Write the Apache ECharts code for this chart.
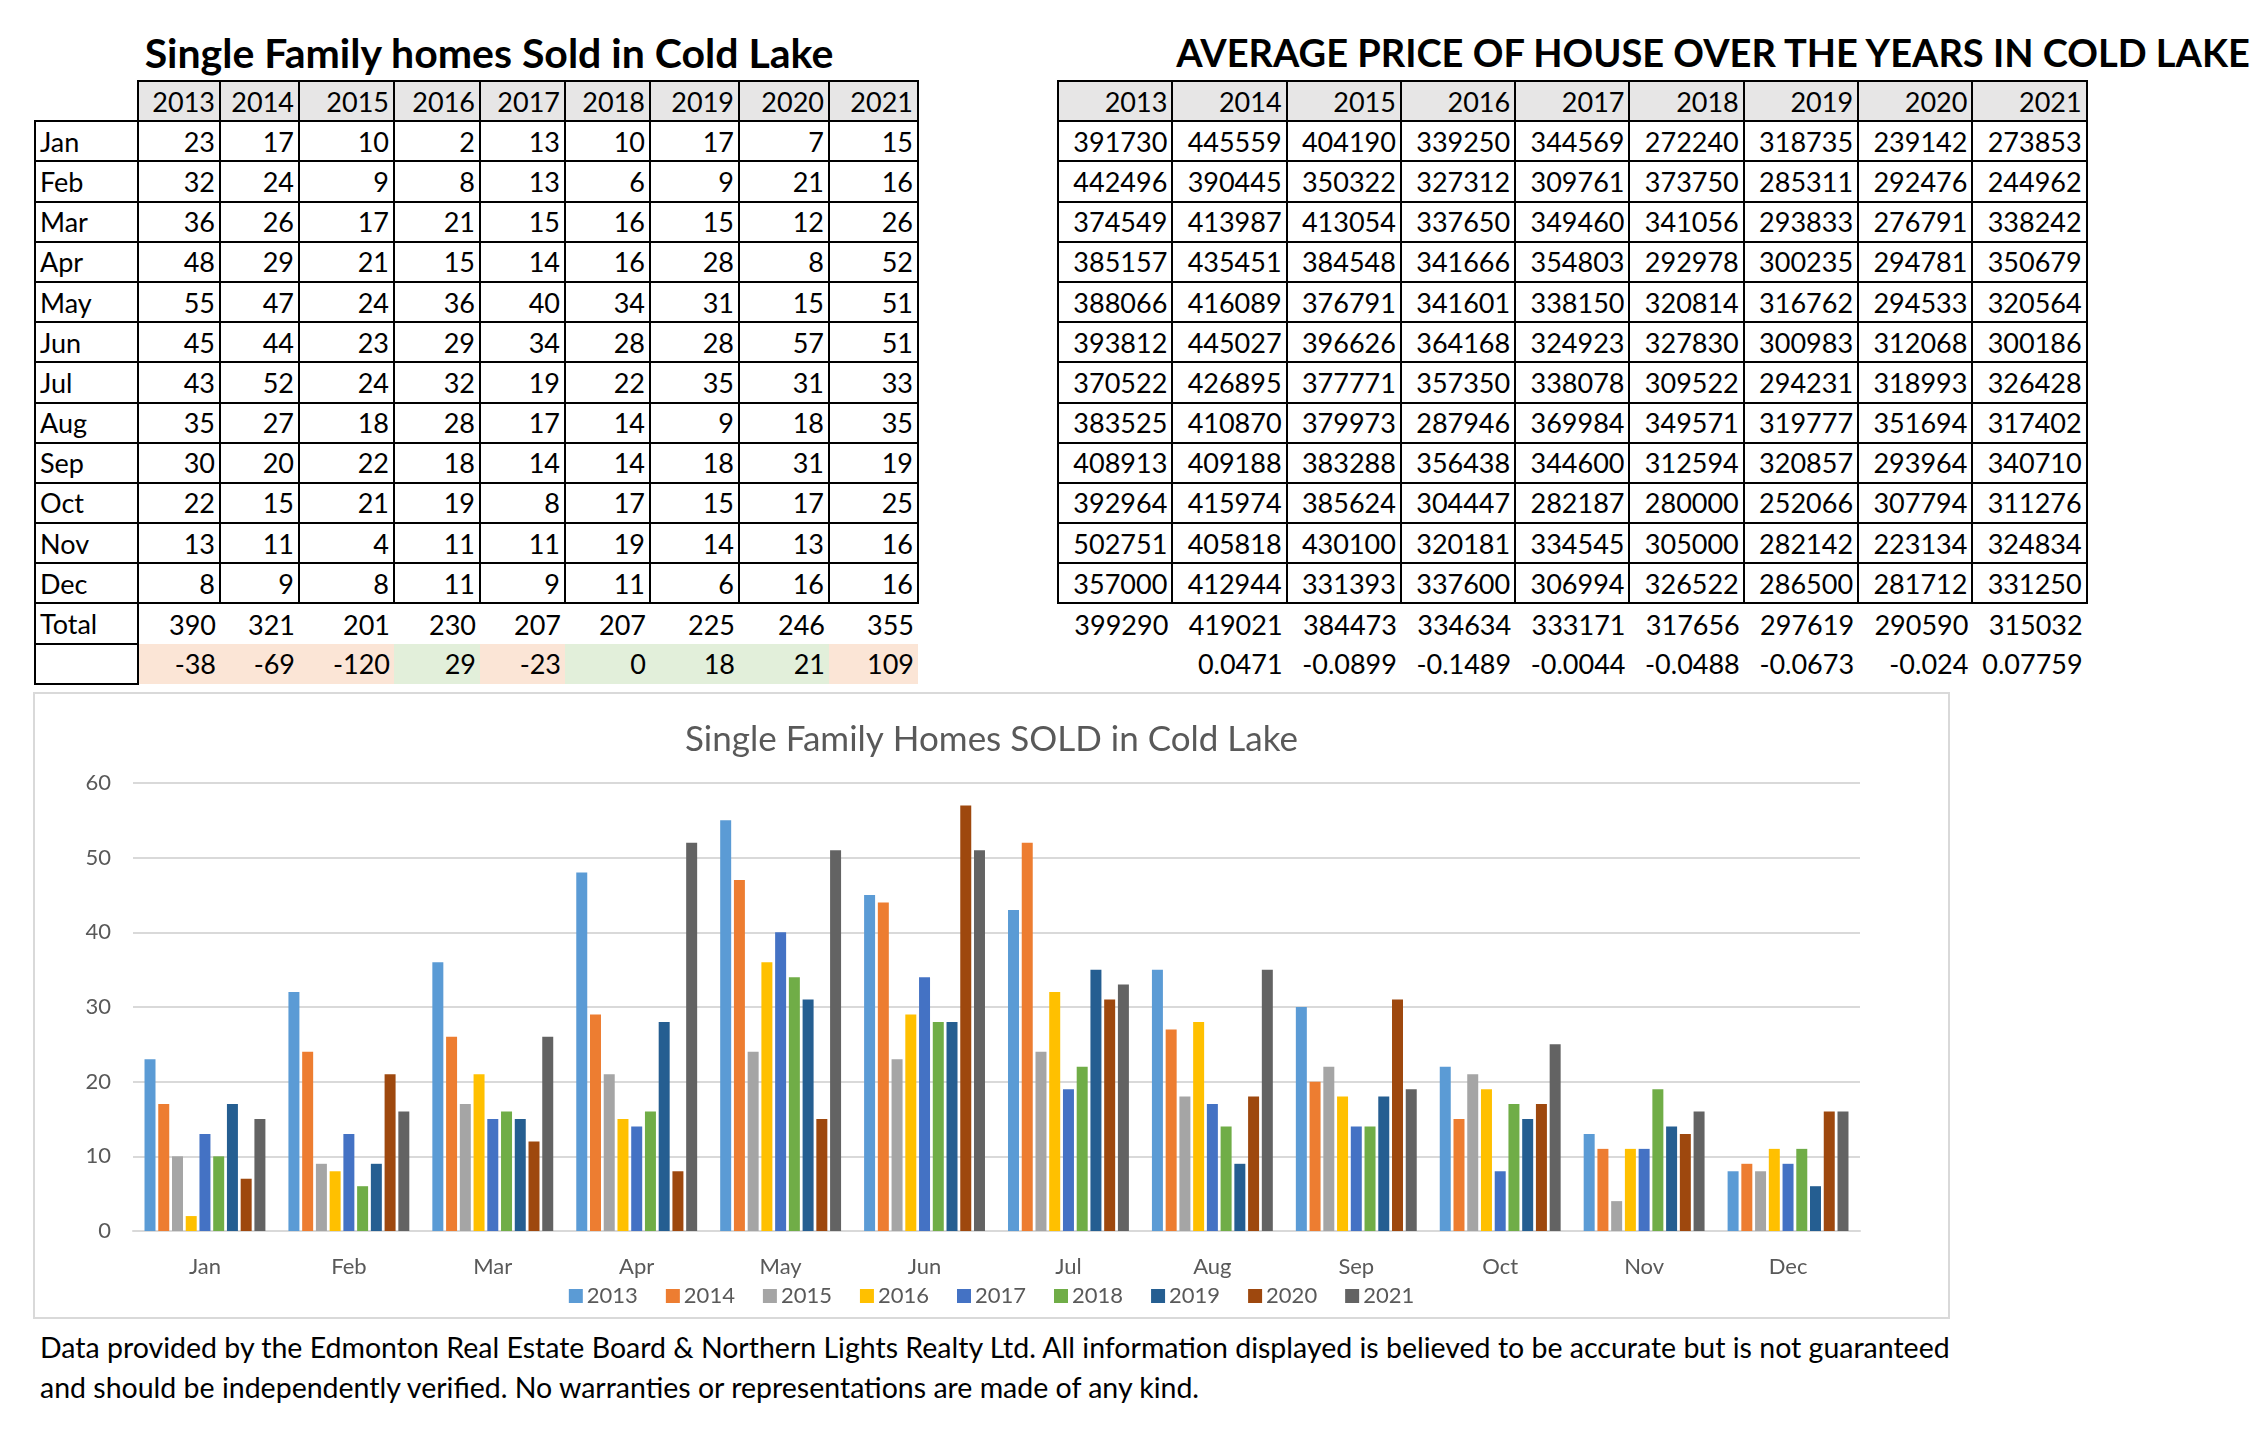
<!DOCTYPE html>
<html>
<head>
<meta charset="utf-8">
<title>Cold Lake homes</title>
<script src="https://cdn.jsdelivr.net/npm/echarts@6/dist/echarts.min.js"></script>
<style>
    html, body { margin: 0; padding: 0; background: #fff; }
    body { width: 2268px; height: 1440px; position: relative; overflow: hidden; font-family: Lato, 'Noto Sans', sans-serif; color: #000; }
    .ttl { position: absolute; font-weight: bold; white-space: nowrap; transform: translateX(-50%); line-height: 1; }
    table { position: absolute; border-collapse: collapse; table-layout: fixed; font-size: 27px; }
    td { height: 40.2px; padding: 0 4px; box-sizing: border-box; text-align: right; white-space: nowrap; line-height: 1; }
    td.b { border: 2.5px solid #000; }
    td.hd { background: #E7E6E6; }
    td.lb { text-align: left; }
    #chart { position: absolute; left: 33px; top: 692px; width: 1917px; height: 627px; border: 2px solid #D9D9D9; box-sizing: border-box; }
    .foot { position: absolute; left: 40px; font-size: 28.5px; white-space: nowrap; line-height: 1; }
</style>
</head>
<body>
<div class="ttl" style="left:489px; top:32px; font-size:41px;">Single Family homes Sold in Cold Lake</div>
<div class="ttl" style="left:1713px; top:33px; font-size:38px;">AVERAGE PRICE OF HOUSE OVER THE YEARS IN COLD LAKE</div>
<table id="soldTable" style="left:34px; top:80px;"></table>
<table id="priceTable" style="left:1057px; top:80px;"></table>
<div id="chart"></div>
<div class="foot" style="top:1333px;">Data provided by the Edmonton Real Estate Board &amp; Northern Lights Realty Ltd. All information displayed is believed to be accurate but is not guaranteed</div>
<div class="foot" style="top:1373px;">and should be independently verified. No warranties or representations are made of any kind.</div>
<script>
var years = ['2013', '2014', '2015', '2016', '2017', '2018', '2019', '2020', '2021'];
var months = ['Jan', 'Feb', 'Mar', 'Apr', 'May', 'Jun', 'Jul', 'Aug', 'Sep', 'Oct', 'Nov', 'Dec'];

// homes sold per month
var sold2013 = [23, 32, 36, 48, 55, 45, 43, 35, 30, 22, 13, 8];
var sold2014 = [17, 24, 26, 29, 47, 44, 52, 27, 20, 15, 11, 9];
var sold2015 = [10, 9, 17, 21, 24, 23, 24, 18, 22, 21, 4, 8];
var sold2016 = [2, 8, 21, 15, 36, 29, 32, 28, 18, 19, 11, 11];
var sold2017 = [13, 13, 15, 14, 40, 34, 19, 17, 14, 8, 11, 9];
var sold2018 = [10, 6, 16, 16, 34, 28, 22, 14, 14, 17, 19, 11];
var sold2019 = [17, 9, 15, 28, 31, 28, 35, 9, 18, 15, 14, 6];
var sold2020 = [7, 21, 12, 8, 15, 57, 31, 18, 31, 17, 13, 16];
var sold2021 = [15, 16, 26, 52, 51, 51, 33, 35, 19, 25, 16, 16];
var soldTotal = [390, 321, 201, 230, 207, 207, 225, 246, 355];
var soldChange = [-38, -69, -120, 29, -23, 0, 18, 21, 109];

// average price per month
var price2013 = [391730, 442496, 374549, 385157, 388066, 393812, 370522, 383525, 408913, 392964, 502751, 357000];
var price2014 = [445559, 390445, 413987, 435451, 416089, 445027, 426895, 410870, 409188, 415974, 405818, 412944];
var price2015 = [404190, 350322, 413054, 384548, 376791, 396626, 377771, 379973, 383288, 385624, 430100, 331393];
var price2016 = [339250, 327312, 337650, 341666, 341601, 364168, 357350, 287946, 356438, 304447, 320181, 337600];
var price2017 = [344569, 309761, 349460, 354803, 338150, 324923, 338078, 369984, 344600, 282187, 334545, 306994];
var price2018 = [272240, 373750, 341056, 292978, 320814, 327830, 309522, 349571, 312594, 280000, 305000, 326522];
var price2019 = [318735, 285311, 293833, 300235, 316762, 300983, 294231, 319777, 320857, 252066, 282142, 286500];
var price2020 = [239142, 292476, 276791, 294781, 294533, 312068, 318993, 351694, 293964, 307794, 223134, 281712];
var price2021 = [273853, 244962, 338242, 350679, 320564, 300186, 326428, 317402, 340710, 311276, 324834, 331250];
var priceAvg = [399290, 419021, 384473, 334634, 333171, 317656, 297619, 290590, 315032];
var priceChange = ['', 0.0471, -0.0899, -0.1489, -0.0044, -0.0488, -0.0673, -0.024, 0.07759];

var soldCols = [sold2013, sold2014, sold2015, sold2016, sold2017, sold2018, sold2019, sold2020, sold2021];
var priceCols = [price2013, price2014, price2015, price2016, price2017, price2018, price2019, price2020, price2021];

var colors = ['#5B9BD5', '#ED7D31', '#A5A5A5', '#FFC000', '#4472C4', '#70AD47', '#255E91', '#9E480E', '#636363'];
var changeFill = ['#FBE5D6', '#FBE5D6', '#FBE5D6', '#E2EFDA', '#FBE5D6', '#E2EFDA', '#E2EFDA', '#E2EFDA', '#FBE5D6'];
var soldWidths = [103, 82, 79, 95, 86, 85, 85, 89, 90, 89];

function td(text, cls, style) {
    return '<td' + (cls ? ' class="' + cls + '"' : '') + (style ? ' style="' + style + '"' : '') + '>' + text + '</td>';
}

// ----------------------------------------------------------- sold table
(function () {
    var html = '<colgroup>';
    soldWidths.forEach(function (w) { html += '<col style="width:' + w + 'px">'; });
    html += '</colgroup><tr>' + td('', '');
    years.forEach(function (y) { html += td(y, 'b hd'); });
    html += '</tr>';
    months.forEach(function (m, i) {
        html += '<tr>' + td(m, 'b lb');
        soldCols.forEach(function (col) { html += td(col[i], 'b'); });
        html += '</tr>';
    });
    html += '<tr>' + td('Total', 'b lb');
    soldTotal.forEach(function (v) { html += td(v, ''); });
    html += '</tr><tr>' + td('', 'b lb');
    soldChange.forEach(function (v, i) { html += td(v, '', 'background:' + changeFill[i]); });
    html += '</tr>';
    document.getElementById('soldTable').innerHTML = html;
})();

// ----------------------------------------------------------- price table
(function () {
    var html = '<colgroup>';
    years.forEach(function () { html += '<col style="width:114.3px">'; });
    html += '</colgroup><tr>';
    years.forEach(function (y) { html += td(y, 'b hd'); });
    html += '</tr>';
    months.forEach(function (m, i) {
        html += '<tr>';
        priceCols.forEach(function (col) { html += td(col[i], 'b'); });
        html += '</tr>';
    });
    html += '<tr>';
    priceAvg.forEach(function (v) { html += td(v, ''); });
    html += '</tr><tr>';
    priceChange.forEach(function (v) { html += td(v, ''); });
    html += '</tr>';
    document.getElementById('priceTable').innerHTML = html;
})();

// ----------------------------------------------------------- chart
var chart = echarts.init(document.getElementById('chart'));
chart.setOption({
    animation: false,
    color: colors,
    textStyle: { fontFamily: 'Lato' },
    title: {
        text: 'Single Family Homes SOLD in Cold Lake',
        left: 'center',
        top: 23,
        textStyle: { fontSize: 35, fontWeight: 'normal', color: '#595959', fontFamily: 'Lato' }
    },
    legend: {
        data: years,
        bottom: 5,
        left: 'center',
        itemWidth: 14,
        itemHeight: 14,
        itemGap: 28,
        icon: 'rect',
        textStyle: { fontSize: 22, color: '#595959', padding: [0, 0, 0, -1] }
    },
    grid: { left: 98, right: 88, top: 89, bottom: 86, containLabel: false },
    xAxis: {
        type: 'category',
        data: months,
        axisTick: { show: false },
        axisLine: { lineStyle: { color: '#D9D9D9', width: 2 } },
        axisLabel: { fontSize: 22, color: '#595959', margin: 25 }
    },
    yAxis: {
        type: 'value',
        min: 0,
        max: 60,
        interval: 10,
        axisLine: { show: false },
        axisTick: { show: false },
        axisLabel: { fontSize: 22, color: '#595959', margin: 22 },
        splitLine: { lineStyle: { color: '#D9D9D9', width: 2 } }
    },
    series: years.map(function (y, i) {
        return {
            name: y,
            type: 'bar',
            data: soldCols[i],
            barGap: '25%',
            barCategoryGap: '16%'
        };
    })
});
</script>
</body>
</html>
